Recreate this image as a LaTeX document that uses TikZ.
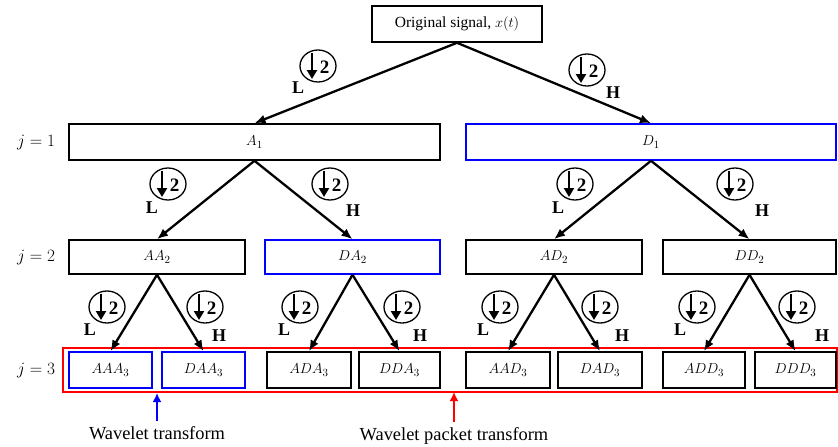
\documentclass[tikz,border=0pt]{standalone}
\usepackage{fontspec}
\setmainfont{Liberation Serif}
\usetikzlibrary{arrows.meta}
\definecolor{wblue}{RGB}{0,0,255}
\definecolor{wred}{RGB}{255,0,0}
\tikzset{
  band/.style={draw=black, line width=1.6pt, minimum height=36pt, inner sep=0pt,
               font=\fontsize{15.5}{17}\selectfont},
  bandblue/.style={band, draw=wblue},
  split/.style={line width=2.3pt, -{Latex[length=11pt,width=9pt]}},
  lvl/.style={font=\fontsize{17.5}{19}\selectfont},
  lh/.style={font=\bfseries\fontsize{18}{18}\selectfont, inner sep=0pt},
  note/.style={font=\fontsize{18.4}{20}\selectfont, inner sep=0pt},
  pics/dsamp/.style={code={
    \draw[line width=1.3pt] (0,0) ellipse [x radius=18pt, y radius=16pt];
    \draw[line width=2.4pt,-{Triangle[length=9pt,width=10pt]}] (-6,-13) -- (-6,13);
    \node[font=\bfseries\fontsize{19}{19}\selectfont, inner sep=0pt] at (6.5,1) {2};
  }}
}
\begin{document}
\begin{tikzpicture}[x=1pt,y=-1pt]
\useasboundingbox (0,0) rectangle (838,447);

% root
\node[band, minimum width=170pt, font=\fontsize{15.5}{17}\selectfont] (root) at (457,24) {Original signal, $x(t)$};

% level 1
\node[band, minimum width=371pt] (A1) at (254.5,142) {$A_1$};
\node[bandblue, minimum width=370pt] (D1) at (651,142) {$D_1$};

% level 2
\node[band, minimum width=176pt, minimum height=34pt] (AA2) at (157,257) {$AA_2$};
\node[bandblue, minimum width=175pt, minimum height=34pt] (DA2) at (352.5,257) {$DA_2$};
\node[band, minimum width=176pt, minimum height=34pt] (AD2) at (554,257) {$AD_2$};
\node[band, minimum width=173pt, minimum height=34pt] (DD2) at (749.5,257) {$DD_2$};

% level 3 packet frame
\draw[wred, line width=1.5pt] (63,348) rectangle (837,392);
\coordinate (frame) at (454,392);

% level 3
\node[bandblue, minimum width=83pt] (AAA3) at (110.5,370) {$AAA_3$};
\node[bandblue, minimum width=83pt] (DAA3) at (203.5,370) {$DAA_3$};
\node[band, minimum width=84pt] (ADA3) at (309,370) {$ADA_3$};
\node[band, minimum width=81pt] (DDA3) at (399.5,370) {$DDA_3$};
\node[band, minimum width=84pt] (AAD3) at (508,370) {$AAD_3$};
\node[band, minimum width=84pt] (DAD3) at (600,370) {$DAD_3$};
\node[band, minimum width=82pt] (ADD3) at (704,370) {$ADD_3$};
\node[band, minimum width=81pt] (DDD3) at (795.5,370) {$DDD_3$};

% level labels
\node[lvl] (j1) at (36,143) {$j=1$};
\node[lvl] (j2) at (36,258) {$j=2$};
\node[lvl] (j3) at (36,371) {$j=3$};

% splits
\draw[split] (root.south) -- (A1.north);
\draw[split] (root.south) -- (D1.north);
\draw[split] (A1.south) -- (AA2.north);
\draw[split] (A1.south) -- (DA2.north);
\draw[split] (D1.south) -- (AD2.north);
\draw[split] (D1.south) -- (DD2.north);
\draw[split] (AA2.south) -- (AAA3.north);
\draw[split] (AA2.south) -- (DAA3.north);
\draw[split] (DA2.south) -- (ADA3.north);
\draw[split] (DA2.south) -- (DDA3.north);
\draw[split] (AD2.south) -- (AAD3.north);
\draw[split] (AD2.south) -- (DAD3.north);
\draw[split] (DD2.south) -- (ADD3.north);
\draw[split] (DD2.south) -- (DDD3.north);

% downsampling marks and filter labels
\pic at (318,66) {dsamp};  \node[lh] (l0) at (298,88) {L};
\pic at (587,70) {dsamp};  \node[lh] (h0) at (613,93) {H};

\pic at (168,184) {dsamp}; \node[lh] (l1a) at (152,208) {L};
\pic at (330,184) {dsamp}; \node[lh] (h1a) at (353,211) {H};
\pic at (575,184) {dsamp}; \node[lh] (l1b) at (558,208) {L};
\pic at (735,184) {dsamp}; \node[lh] (h1b) at (762,211) {H};

\pic at (107,307) {dsamp}; \node[lh] (l2a) at (90,330) {L};
\pic at (205,307) {dsamp}; \node[lh] (h2a) at (219,336) {H};
\pic at (300,307) {dsamp}; \node[lh] (l2b) at (284,330) {L};
\pic at (402,307) {dsamp}; \node[lh] (h2b) at (420,336) {H};
\pic at (500,307) {dsamp}; \node[lh] (l2c) at (483,330) {L};
\pic at (600,307) {dsamp}; \node[lh] (h2c) at (622,336) {H};
\pic at (697,307) {dsamp}; \node[lh] (l2d) at (680,330) {L};
\pic at (797,307) {dsamp}; \node[lh] (h2d) at (822,336) {H};

% transform notes
\node[note] (wt) at (157,433) {Wavelet transform};
\node[note] (wpt) at (454,436) {Wavelet packet transform};
\coordinate (wttop) at (157,393);
\draw[wblue, line width=2.5pt, -{Latex[length=9pt,width=9pt]}] (wt.north) ++(0,-5) -- (wttop);
\draw[wred, line width=2.5pt, -{Latex[length=9pt,width=9pt]}] (wpt.north) ++(0,-5) -- (frame);
\end{tikzpicture}
\end{document}
